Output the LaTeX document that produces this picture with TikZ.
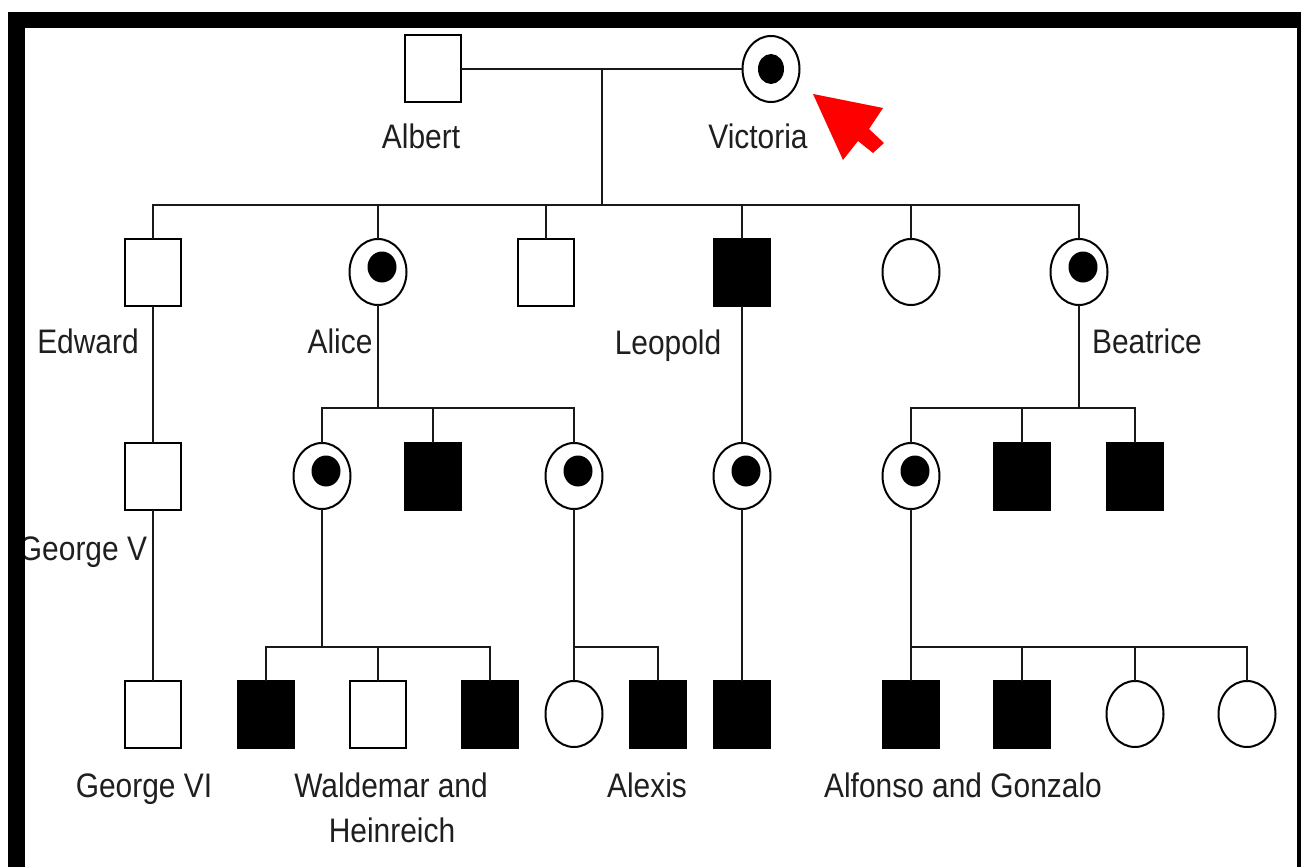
\documentclass[tikz,border=0pt]{standalone}
\usepackage{fontspec}
\setmainfont{Liberation Sans}[FakeStretch=0.88]
\usetikzlibrary{shapes.geometric}
\tikzset{
  ind/.style={draw=black, line width=2pt, inner sep=0pt},
  male/.style={ind, rectangle, minimum width=56pt, minimum height=67pt, fill=white},
  affm/.style={male, fill=black},
  female/.style={ind, ellipse, minimum width=57pt, minimum height=66pt, fill=white},
  carrier/.style={female, path picture={\fill[black] ([xshift=4pt,yshift=5pt]path picture bounding box.center) ellipse [x radius=14.5pt, y radius=15.5pt];}},
  carrierc/.style={female, path picture={\fill[black] (path picture bounding box.center) ellipse [x radius=13pt, y radius=15pt];}},
  lbl/.style={font=\fontsize{34}{42}\selectfont, text=black!88, inner sep=0pt, anchor=base},
  link/.style={line width=2pt, draw=black!90, line cap=rect}
}
\begin{document}
\begin{tikzpicture}[x=1pt, y=-1pt]
\useasboundingbox (0,0) rectangle (1302,867);
\fill[white] (0,0) rectangle (1302,867);

% generation I
\node[male]     (alb) at (433,69) {};
\node[carrierc] (vic) at (771,69) {};
% generation II
\node[male]    (edw) at (153,272) {};
\node[carrier] (ali) at (378,272) {};
\node[male]    (s3)  at (546,272) {};
\node[affm]    (leo) at (742,272) {};
\node[female]  (d5)  at (911,272) {};
\node[carrier] (bea) at (1079,272) {};
% generation III
\node[male]    (gv) at (153,476) {};
\node[carrier] (a1) at (322,476) {};
\node[affm]    (a2) at (433,476) {};
\node[carrier] (a3) at (574,476) {};
\node[carrier] (l1) at (742,476) {};
\node[carrier] (b1) at (911,476) {};
\node[affm]    (b2) at (1022,476) {};
\node[affm]    (b3) at (1135,476) {};
% generation IV
\node[male]   (g6) at (153,714) {};
\node[affm]   (w1) at (266,714) {};
\node[male]   (w2) at (378,714) {};
\node[affm]   (w3) at (490,714) {};
\node[female] (x1) at (574,714) {};
\node[affm]   (x2) at (658,714) {};
\node[affm]   (l2) at (742,714) {};
\node[affm]   (f1) at (911,714) {};
\node[affm]   (f2) at (1022,714) {};
\node[female] (f3) at (1135,714) {};
\node[female] (f4) at (1247,714) {};

% sibship levels
\coordinate (m1) at (602,69);
\coordinate (k1) at (602,205);
\coordinate (k2) at (0,408);
\coordinate (k3) at (0,647);

% marriage and first sibship
\draw[link] (alb.east) -- (vic.west);
\draw[link] (m1) -- (k1);
\draw[link] (edw.north |- k1) -- (bea.north |- k1);
\foreach \c in {edw,ali,s3,leo,d5,bea} \draw[link] (\c.north |- k1) -- (\c.north);

% Edward's line
\draw[link] (edw.south) -- (gv.north);
\draw[link] (gv.south) -- (g6.north);

% Alice's children
\draw[link] (ali.south) -- (ali.south |- k2);
\draw[link] (a1.north |- k2) -- (a3.north |- k2);
\foreach \c in {a1,a2,a3} \draw[link] (\c.north |- k2) -- (\c.north);

% Leopold's line
\draw[link] (leo.south) -- (l1.north);
\draw[link] (l1.south) -- (l2.north);

% Beatrice's children
\draw[link] (bea.south) -- (bea.south |- k2);
\draw[link] (b1.north |- k2) -- (b3.north |- k2);
\foreach \c in {b1,b2,b3} \draw[link] (\c.north |- k2) -- (\c.north);

% fourth generation sibships
\draw[link] (a1.south) -- (a1.south |- k3);
\draw[link] (w1.north |- k3) -- (w3.north |- k3);
\foreach \c in {w1,w2,w3} \draw[link] (\c.north |- k3) -- (\c.north);

\draw[link] (a3.south) -- (a3.south |- k3);
\draw[link] (x1.north |- k3) -- (x2.north |- k3);
\foreach \c in {x1,x2} \draw[link] (\c.north |- k3) -- (\c.north);

\draw[link] (b1.south) -- (b1.south |- k3);
\draw[link] (f1.north |- k3) -- (f4.north |- k3);
\foreach \c in {f1,f2,f3,f4} \draw[link] (\c.north |- k3) -- (\c.north);

% names
\node[lbl] (nalb) at (421,148) {Albert};
\node[lbl] (nvic) at (758,148) {Victoria};
\node[lbl] (nedw) at (88,353) {Edward};
\node[lbl] (nali) at (340,353) {Alice};
\node[lbl] (nleo) at (668,354) {Leopold};
\node[lbl] (nbea) at (1147,353) {Beatrice};
\node[lbl] (ngv)  at (83,560) {George V};
\node[lbl] (ng6)  at (144,797) {George VI};
\node[lbl] (nwa)  at (391,797) {Waldemar and};
\node[lbl] (nwb)  at (392,842) {Heinreich};
\node[lbl] (nalx) at (647,797) {Alexis};
\node[lbl] (nalf) at (963,797) {Alfonso and Gonzalo};

% red pointer
\fill[red] (813,94) -- (883,108) -- (869,129) -- (884,143) -- (873,153)
  -- (858,141) -- (843,160) -- cycle;

% frame
\fill[black] (8,12) rectangle (1301,28);
\fill[black] (8,12) rectangle (25,867);
\fill[black] (1297,12) rectangle (1301,867);
\end{tikzpicture}
\end{document}
